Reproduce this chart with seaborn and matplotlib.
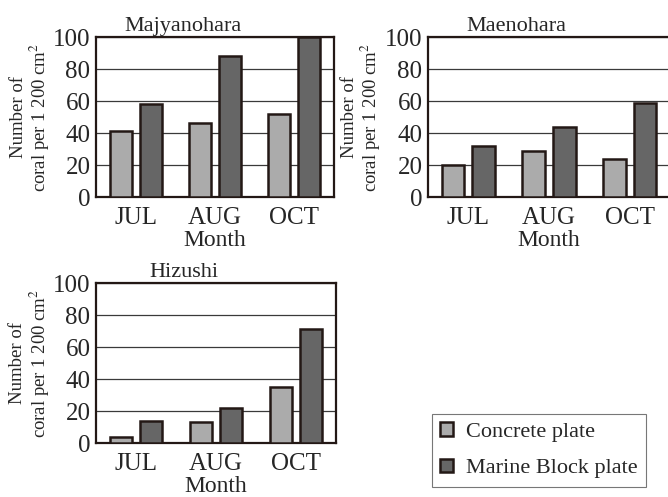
import numpy as np
import pandas as pd
import seaborn as sns
import matplotlib
matplotlib.use("Agg")
from matplotlib import pyplot as plt
from matplotlib.patches import Patch

# data
months = ["JUL", "AUG", "OCT"]
plates = ["Concrete plate", "Marine Block plate"]
sites = ["Majyanohara", "Maenohara", "Hizushi"]
majyanohara_concrete = [41, 46, 52]
majyanohara_marine = [58, 88, 100]
maenohara_concrete = [20, 29, 24]
maenohara_marine = [32, 44, 59]
hizushi_concrete = [4, 13, 35]
hizushi_marine = [14, 22, 71]

values = {
    "Majyanohara": (majyanohara_concrete, majyanohara_marine),
    "Maenohara": (maenohara_concrete, maenohara_marine),
    "Hizushi": (hizushi_concrete, hizushi_marine),
}

sns.set_style("white")
plt.rcParams["font.family"] = ["Liberation Serif", "DejaVu Serif"]
plt.rcParams["mathtext.fontset"] = "stix"

edge = "#231815"
colors = ["#ababab", "#666666"]

fig = plt.figure(figsize=(6.68, 4.97), dpi=100)
W, H = 668.0, 497.0
# axes boxes in pixels: left, top, right, bottom
boxes = {
    "Majyanohara": (96, 37, 334, 197),
    "Maenohara": (428, 37, 670, 197),
    "Hizushi": (96, 283, 336, 443),
}

for site in sites:
    l, t, r, b = boxes[site]
    ax = fig.add_axes([l / W, 1 - b / H, (r - l) / W, (b - t) / H])
    conc, mar = values[site]
    df = pd.DataFrame({
        "Month": months * 2,
        "Count": conc + mar,
        "Plate": [plates[0]] * 3 + [plates[1]] * 3,
    })
    sns.barplot(data=df, x="Month", y="Count", hue="Plate", palette=colors,
                width=0.76, gap=0.27, edgecolor=edge, linewidth=1.8,
                saturation=1, legend=False, ax=ax, zorder=3)
    ax.set_ylim(0, 100)
    ax.set_xlim(-0.5, 2.5)
    ax.set_yticks([0, 20, 40, 60, 80, 100])
    ax.yaxis.grid(True, color="#3a3a3a", linewidth=0.9, zorder=0)
    ax.set_axisbelow(True)
    ax.set_xticks([0.5, 1.5], minor=True)
    ax.tick_params(axis="x", which="major", length=0, labelsize=18, pad=7)
    ax.tick_params(axis="x", which="minor", direction="in", length=3,
                   width=0.8, color="#555555")
    ax.tick_params(axis="y", length=0, labelsize=18, pad=4)
    for s in ax.spines.values():
        s.set_color(edge)
        s.set_linewidth(1.6)
    ax.set_xlabel("Month", fontsize=17, labelpad=1)
    ax.set_ylabel("Number of\ncoral per 1 200 cm$^2$", fontsize=13.5,
                  linespacing=1.05)
    ax.yaxis.set_label_coords(-0.185, 0.5)
    ax.set_title(site, fontsize=16, x=0.365, pad=4)

handles = [Patch(facecolor=c, edgecolor=edge, linewidth=1.8) for c in colors]
leg = fig.legend(handles, plates, loc="upper left",
                 bbox_to_anchor=(432 / W, 1 - 414 / H), borderaxespad=0,
                 fontsize=16, frameon=True, fancybox=False, handlelength=0.55,
                 handleheight=0.55, handletextpad=0.6, labelspacing=0.75,
                 borderpad=0.38)
leg.get_frame().set_edgecolor("#555555")
leg.get_frame().set_linewidth(0.8)

fig.savefig("out.png", dpi=100)
